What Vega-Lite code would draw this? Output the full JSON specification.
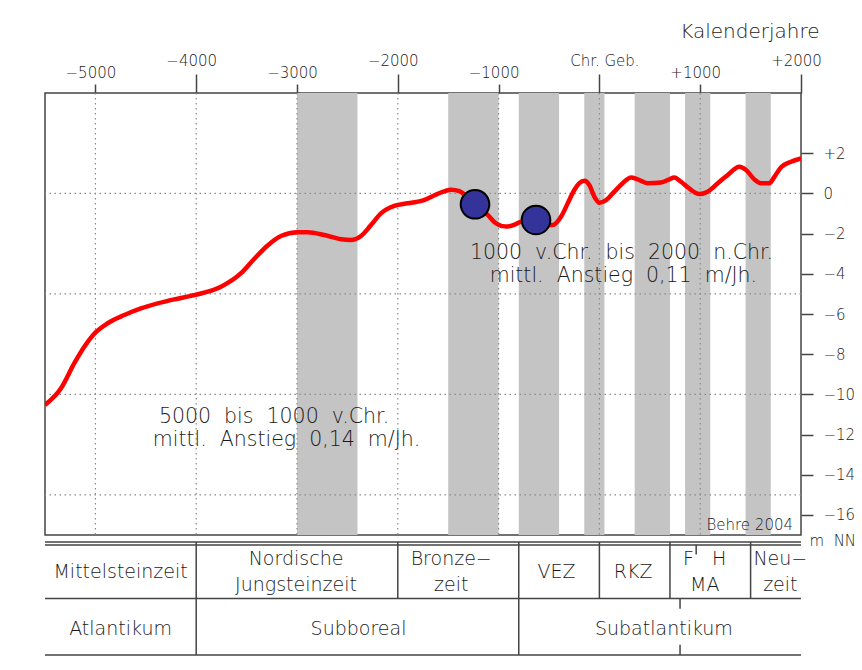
{
  "$schema": "https://vega.github.io/schema/vega-lite/v6.json",
  "background": "white",
  "padding": {"left": 43, "top": 20, "right": 0, "bottom": 0},
  "bounds": "flush",
  "spacing": 7,
  "config": {
    "view": {"stroke": null},
    "font": "DejaVu Sans",
    "text": {"font": "DejaVu Sans", "color": "#1a1a1a", "fontWeight": 300}
  },
  "datasets": {
    "baender": [
      {"von": -3000, "bis": -2400},
      {"von": -1500, "bis": -1000},
      {"von": -800, "bis": -400},
      {"von": -150, "bis": 50},
      {"von": 350, "bis": 700},
      {"von": 850, "bis": 1100},
      {"von": 1450, "bis": 1700}
    ],
    "gitter_jahre": [
      {"jahr": -5000}, {"jahr": -4000}, {"jahr": -3000}, {"jahr": -2000},
      {"jahr": -1000}, {"jahr": 0}, {"jahr": 1000}
    ],
    "gitter_meter": [{"m": 0}, {"m": -5}, {"m": -10}, {"m": -15}],
    "kurve": [
      {"jahr": -5500, "m": -10.53},
      {"jahr": -5341, "m": -9.7},
      {"jahr": -5209, "m": -8.45},
      {"jahr": -5110, "m": -7.63},
      {"jahr": -5011, "m": -6.98},
      {"jahr": -4878, "m": -6.46},
      {"jahr": -4713, "m": -6.05},
      {"jahr": -4548, "m": -5.72},
      {"jahr": -4382, "m": -5.47},
      {"jahr": -4217, "m": -5.27},
      {"jahr": -4052, "m": -5.1},
      {"jahr": -3886, "m": -4.89},
      {"jahr": -3754, "m": -4.64},
      {"jahr": -3555, "m": -3.97},
      {"jahr": -3423, "m": -3.25},
      {"jahr": -3291, "m": -2.59},
      {"jahr": -3159, "m": -2.12},
      {"jahr": -2993, "m": -1.93},
      {"jahr": -2894, "m": -1.93},
      {"jahr": -2729, "m": -2.07},
      {"jahr": -2563, "m": -2.28},
      {"jahr": -2464, "m": -2.32},
      {"jahr": -2365, "m": -2.12},
      {"jahr": -2266, "m": -1.57},
      {"jahr": -2167, "m": -0.99},
      {"jahr": -2035, "m": -0.62},
      {"jahr": -1902, "m": -0.49},
      {"jahr": -1740, "m": -0.33},
      {"jahr": -1604, "m": -0.02},
      {"jahr": -1472, "m": 0.19},
      {"jahr": -1389, "m": 0.12},
      {"jahr": -1250, "m": -0.5},
      {"jahr": -1108, "m": -1.07},
      {"jahr": -1026, "m": -1.49},
      {"jahr": -927, "m": -1.65},
      {"jahr": -827, "m": -1.52},
      {"jahr": -778, "m": -1.41},
      {"jahr": -630, "m": -1.45},
      {"jahr": -463, "m": -1.57},
      {"jahr": -381, "m": -1.16},
      {"jahr": -314, "m": -0.49},
      {"jahr": -249, "m": 0.17},
      {"jahr": -199, "m": 0.51},
      {"jahr": -149, "m": 0.63},
      {"jahr": -100, "m": 0.42},
      {"jahr": -50, "m": -0.16},
      {"jahr": 0, "m": -0.46},
      {"jahr": 66, "m": -0.33},
      {"jahr": 148, "m": 0.09},
      {"jahr": 231, "m": 0.51},
      {"jahr": 314, "m": 0.8},
      {"jahr": 380, "m": 0.7},
      {"jahr": 479, "m": 0.51},
      {"jahr": 611, "m": 0.54},
      {"jahr": 694, "m": 0.7},
      {"jahr": 743, "m": 0.8},
      {"jahr": 810, "m": 0.58},
      {"jahr": 876, "m": 0.31},
      {"jahr": 991, "m": -0.03},
      {"jahr": 1074, "m": 0.09},
      {"jahr": 1174, "m": 0.51},
      {"jahr": 1273, "m": 0.92},
      {"jahr": 1388, "m": 1.33},
      {"jahr": 1455, "m": 1.17},
      {"jahr": 1537, "m": 0.7},
      {"jahr": 1603, "m": 0.51},
      {"jahr": 1686, "m": 0.51},
      {"jahr": 1736, "m": 0.83},
      {"jahr": 1802, "m": 1.3},
      {"jahr": 1901, "m": 1.58},
      {"jahr": 2000, "m": 1.75}
    ],
    "punkte": [
      {"jahr": -1234, "m": -0.54},
      {"jahr": -629, "m": -1.32}
    ],
    "texte": [
      {"text": "1000 \u00a0v.Chr. \u00a0bis \u00a02000 \u00a0n.Chr.", "jahr": 219, "m": -3.26},
      {"text": "mittl. \u00a0Anstieg \u00a00,11 \u00a0m/Jh.", "jahr": 238, "m": -4.41},
      {"text": "5000 \u00a0bis \u00a01000 \u00a0v.Chr.", "jahr": -3228, "m": -11.43},
      {"text": "mittl. \u00a0Anstieg \u00a00,14 \u00a0m/Jh.", "jahr": -3104, "m": -12.57}
    ],
    "quelle": [{"text": "Behre 2004", "jahr": 1921, "m": -16.75}],
    "tab_h": [{"pos": 0}, {"pos": 1}, {"pos": 2}],
    "tab_doppel": [{"pos": 0}],
    "tab_v": [
      {"jahr": -4000, "von": 0, "bis": 1},
      {"jahr": -2000, "von": 0, "bis": 1},
      {"jahr": -800, "von": 0, "bis": 1},
      {"jahr": 0, "von": 0, "bis": 1},
      {"jahr": 700, "von": 0, "bis": 1},
      {"jahr": 1500, "von": 0, "bis": 1},
      {"jahr": 960, "von": 0.05, "bis": 0.22},
      {"jahr": -4000, "von": 1, "bis": 2},
      {"jahr": -800, "von": 1, "bis": 2},
      {"jahr": 800, "von": 1, "bis": 1.18},
      {"jahr": 800, "von": 1.82, "bis": 2}
    ],
    "tab_text1": [
      {"text": "Mittelsteinzeit", "jahr": -4750, "zeile": 0.5},
      {"text": "VEZ", "jahr": -425, "zeile": 0.5},
      {"text": "RKZ", "jahr": 335, "zeile": 0.5},
      {"text": "Atlantikum", "jahr": -4750, "zeile": 1.5},
      {"text": "Subboreal", "jahr": -2390, "zeile": 1.5},
      {"text": "Subatlantikum", "jahr": 640, "zeile": 1.5}
    ],
    "tab_text2": [
      {"text": "Nordische\nJungsteinzeit", "jahr": -3010, "zeile": 0.5},
      {"text": "Bronze\u2212\nzeit", "jahr": -1470, "zeile": 0.5},
      {"text": "F \u00a0 H\nMA", "jahr": 1045, "zeile": 0.5},
      {"text": "Neu\u2212\nzeit", "jahr": 1795, "zeile": 0.5}
    ]
  },
  "vconcat": [
    {
      "width": 756,
      "height": 442,
      "view": {"stroke": "#444", "strokeWidth": 1.5},
      "layer": [
        {
          "data": {"name": "baender"},
          "mark": {"type": "rect", "color": "#c4c4c4"},
          "encoding": {
            "x": {"field": "von", "type": "quantitative", "scale": {"domain": [-5500, 2000], "nice": false, "zero": false}},
            "x2": {"field": "bis"}
          }
        },
        {
          "data": {"name": "gitter_jahre"},
          "mark": {"type": "rule", "color": "#8a8a8a", "strokeDash": [1.5, 3.5], "strokeWidth": 1.2},
          "encoding": {
            "x": {"field": "jahr", "type": "quantitative", "scale": {"domain": [-5500, 2000], "nice": false, "zero": false}}
          }
        },
        {
          "data": {"name": "gitter_meter"},
          "mark": {"type": "rule", "color": "#8a8a8a", "strokeDash": [1.5, 3.5], "strokeWidth": 1.2},
          "encoding": {
            "y": {"field": "m", "type": "quantitative", "scale": {"domain": [-17, 5], "nice": false, "zero": false}}
          }
        },
        {
          "data": {"name": "kurve"},
          "mark": {"type": "line", "color": "#ff0000", "strokeWidth": 4.5, "interpolate": "monotone", "clip": true},
          "encoding": {
            "x": {
              "field": "jahr", "type": "quantitative",
              "scale": {"domain": [-5500, 2000], "nice": false, "zero": false},
              "axis": {
                "orient": "top",
                "values": [-5000, -4000, -3000, -2000, -1000, 0, 1000, 2000],
                "grid": false,
                "domain": false,
                "ticks": true,
                "tickColor": "#444",
                "tickWidth": 1.5,
                "tickSize": {"condition": {"test": "datum.value % 2000 === 0", "value": 19}, "value": 9},
                "labelExpr": "datum.value === 0 ? 'Chr. Geb.' : (datum.value > 0 ? '+' + datum.value : '\u2212' + abs(datum.value))",
                "labelFont": "DejaVu Sans",
                "labelFontWeight": 300,
                "labelFontSize": 15,
                "labelColor": "#1a1a1a",
                "labelBaseline": "alphabetic",
                "labelPadding": {"condition": {"test": "datum.value % 2000 === 0", "value": 8.5}, "value": 7},
                "labelOffset": {"condition": {"test": "datum.value === 0", "value": 5}, "value": -5},
                "labelFlush": false,
                "labelOverlap": false,
                "title": "Kalenderjahre",
                "titleFont": "DejaVu Sans",
                "titleFontSize": 20,
                "titleFontWeight": 300,
                "titleColor": "#1a1a1a",
                "titleAlign": "right",
                "titleBaseline": "alphabetic",
                "titleX": 774,
                "titleY": -56
              }
            },
            "y": {
              "field": "m", "type": "quantitative",
              "scale": {"domain": [-17, 5], "nice": false, "zero": false},
              "axis": {
                "orient": "right",
                "values": [-16, -14, -12, -10, -8, -6, -4, -2, 0, 2],
                "grid": false,
                "domain": false,
                "tickColor": "#444",
                "tickWidth": 1.5,
                "tickSize": 12,
                "labelPadding": 10,
                "labelAlign": "left",
                "labelBaseline": "middle",
                "labelFont": "DejaVu Sans",
                "labelFontWeight": 300,
                "labelFontSize": 15,
                "labelColor": "#1a1a1a",
                "labelFlush": false,
                "labelOverlap": false,
                "labelExpr": "datum.value > 0 ? '+' + datum.value : (datum.value < 0 ? '\u2212' + abs(datum.value) : '\u2007\u2009' + '0')",
                "title": "m \u00a0NN",
                "titleFont": "DejaVu Sans",
                "titleFontSize": 15,
                "titleFontWeight": 300,
                "titleColor": "#1a1a1a",
                "titleAngle": 0,
                "titleAlign": "left",
                "titleBaseline": "alphabetic",
                "titleX": 8,
                "titleY": 452
              }
            }
          }
        },
        {
          "data": {"name": "punkte"},
          "mark": {"type": "point", "shape": "circle", "filled": true, "fill": "#333399", "stroke": "#000", "strokeWidth": 2, "size": 820, "opacity": 1},
          "encoding": {
            "x": {"field": "jahr", "type": "quantitative", "scale": {"domain": [-5500, 2000], "nice": false, "zero": false}},
            "y": {"field": "m", "type": "quantitative", "scale": {"domain": [-17, 5], "nice": false, "zero": false}}
          }
        },
        {
          "data": {"name": "texte"},
          "mark": {"type": "text", "fontSize": 20.5, "align": "center", "baseline": "alphabetic"},
          "encoding": {
            "x": {"field": "jahr", "type": "quantitative", "scale": {"domain": [-5500, 2000], "nice": false, "zero": false}},
            "y": {"field": "m", "type": "quantitative", "scale": {"domain": [-17, 5], "nice": false, "zero": false}},
            "text": {"field": "text"}
          }
        },
        {
          "data": {"name": "quelle"},
          "mark": {"type": "text", "fontSize": 15, "align": "right", "baseline": "alphabetic"},
          "encoding": {
            "x": {"field": "jahr", "type": "quantitative", "scale": {"domain": [-5500, 2000], "nice": false, "zero": false}},
            "y": {"field": "m", "type": "quantitative", "scale": {"domain": [-17, 5], "nice": false, "zero": false}},
            "text": {"field": "text"}
          }
        }
      ]
    },
    {
      "width": 756,
      "height": 113,
      "layer": [
        {
          "data": {"name": "tab_h"},
          "mark": {"type": "rule", "color": "#444", "strokeWidth": 1.5},
          "encoding": {
            "y": {"field": "pos", "type": "quantitative", "scale": {"domain": [0, 2], "reverse": true, "nice": false, "zero": false}, "axis": null}
          }
        },
        {
          "data": {"name": "tab_doppel"},
          "mark": {"type": "rule", "color": "#444", "strokeWidth": 1.5, "yOffset": 3},
          "encoding": {
            "y": {"field": "pos", "type": "quantitative", "scale": {"domain": [0, 2], "reverse": true, "nice": false, "zero": false}, "axis": null}
          }
        },
        {
          "data": {"name": "tab_v"},
          "mark": {"type": "rule", "color": "#444", "strokeWidth": 1.5},
          "encoding": {
            "x": {"field": "jahr", "type": "quantitative", "scale": {"domain": [-5500, 2000], "nice": false, "zero": false}, "axis": null},
            "y": {"field": "von", "type": "quantitative", "scale": {"domain": [0, 2], "reverse": true, "nice": false, "zero": false}, "axis": null},
            "y2": {"field": "bis"}
          }
        },
        {
          "data": {"name": "tab_text1"},
          "mark": {"type": "text", "fontSize": 19, "align": "center", "baseline": "middle", "dy": 2},
          "encoding": {
            "x": {"field": "jahr", "type": "quantitative", "scale": {"domain": [-5500, 2000], "nice": false, "zero": false}, "axis": null},
            "y": {"field": "zeile", "type": "quantitative", "scale": {"domain": [0, 2], "reverse": true, "nice": false, "zero": false}, "axis": null},
            "text": {"field": "text"}
          }
        },
        {
          "data": {"name": "tab_text2"},
          "mark": {"type": "text", "fontSize": 19, "lineBreak": "\n", "lineHeight": 26, "align": "center", "baseline": "middle", "dy": -11},
          "encoding": {
            "x": {"field": "jahr", "type": "quantitative", "scale": {"domain": [-5500, 2000], "nice": false, "zero": false}, "axis": null},
            "y": {"field": "zeile", "type": "quantitative", "scale": {"domain": [0, 2], "reverse": true, "nice": false, "zero": false}, "axis": null},
            "text": {"field": "text"}
          }
        }
      ]
    }
  ]
}
